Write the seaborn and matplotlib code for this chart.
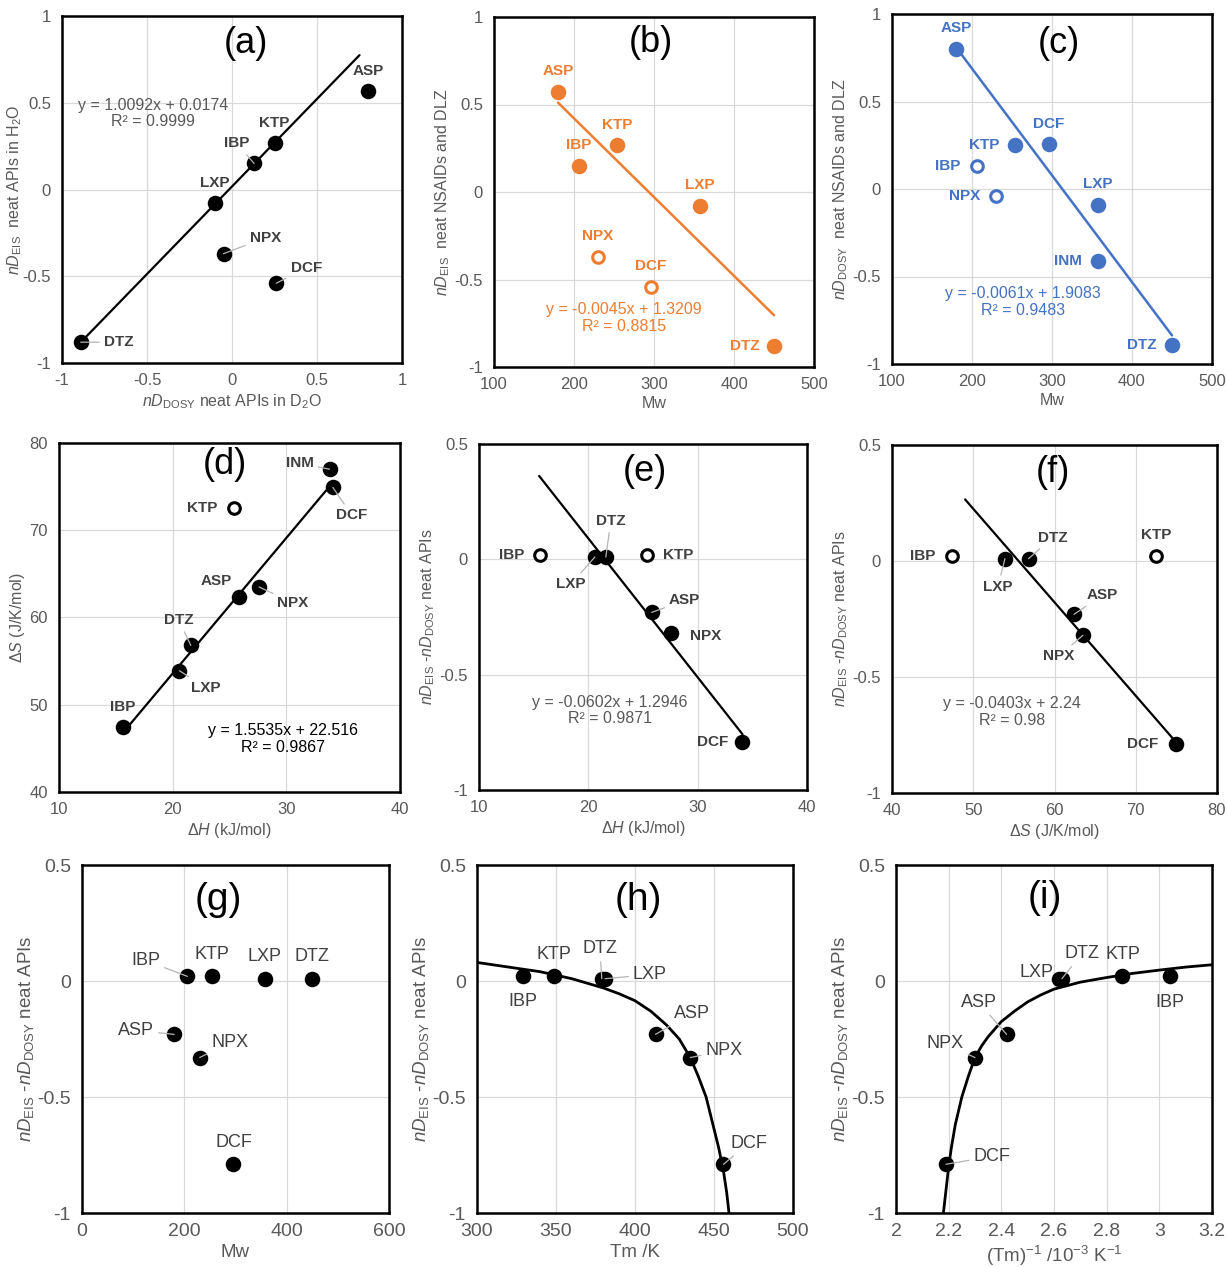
import numpy as np
import pandas as pd
import matplotlib
matplotlib.use("Agg")
import matplotlib.pyplot as plt
import seaborn as sns
from matplotlib.ticker import FuncFormatter

# ---------------- data ----------------
# (a) nD_DOSY (D2O) vs nD_EIS (H2O)
a_labels = ["ASP", "KTP", "IBP", "LXP", "NPX", "DCF", "DTZ"]
a_x = [0.80, 0.25, 0.13, -0.10, -0.05, 0.26, -0.89]
a_y = [0.57, 0.27, 0.15, -0.08, -0.37, -0.54, -0.88]
a_fit = (1.0092, 0.0174)
a_fit_range = [-0.89, 0.75]
a_eq = "y = 1.0092x + 0.0174\nR² = 0.9999"

# (b) Mw vs nD_EIS
b_labels = ["ASP", "IBP", "KTP", "LXP", "NPX", "DCF", "DTZ"]
b_x = [180, 206, 254, 357, 230, 296, 450]
b_y = [0.57, 0.15, 0.27, -0.08, -0.37, -0.54, -0.88]
b_open = [False, False, False, False, True, True, False]
b_fit = (-0.0045, 1.3209)
b_fit_range = [180, 450]
b_eq = "y = -0.0045x + 1.3209\nR² = 0.8815"

# (c) Mw vs nD_DOSY
c_labels = ["ASP", "KTP", "DCF", "IBP", "NPX", "LXP", "INM", "DTZ"]
c_x = [180, 254, 296, 206, 230, 357, 358, 450]
c_y = [0.80, 0.25, 0.26, 0.13, -0.04, -0.09, -0.41, -0.89]
c_open = [False, False, False, True, True, False, False, False]
c_fit = (-0.0061, 1.9083)
c_fit_range = [180, 450]
c_eq = "y = -0.0061x + 1.9083\nR² = 0.9483"

# (d) dH vs dS
d_labels = ["IBP", "LXP", "DTZ", "ASP", "NPX", "INM", "DCF", "KTP"]
d_x = [15.6, 20.6, 21.6, 25.8, 27.6, 33.8, 34.1, 25.4]
d_y = [47.4, 53.9, 56.8, 62.4, 63.5, 77.0, 74.9, 72.5]
d_open = [False, False, False, False, False, False, False, True]
d_fit = (1.5535, 22.516)
d_fit_range = [15.6, 34.1]
d_eq = "y = 1.5535x + 22.516\nR² = 0.9867"

# (e) dH vs nD_EIS - nD_DOSY
e_labels = ["IBP", "KTP", "LXP", "DTZ", "ASP", "NPX", "DCF"]
e_x = [15.6, 25.4, 20.6, 21.6, 25.8, 27.6, 34.1]
e_y = [0.02, 0.02, 0.01, 0.01, -0.23, -0.32, -0.79]
e_open = [True, True, False, False, False, False, False]
e_fit = (-0.0602, 1.2946)
e_fit_range = [15.5, 34.1]
e_eq = "y = -0.0602x + 1.2946\nR² = 0.9871"

# (f) dS vs nD_EIS - nD_DOSY
f_labels = ["IBP", "KTP", "LXP", "DTZ", "ASP", "NPX", "DCF"]
f_x = [47.4, 72.5, 53.9, 56.8, 62.4, 63.5, 74.9]
f_y = [0.02, 0.02, 0.01, 0.01, -0.23, -0.32, -0.79]
f_open = [True, True, False, False, False, False, False]
f_fit = (-0.0403, 2.24)
f_fit_range = [49.0, 74.9]
f_eq = "y = -0.0403x + 2.24\nR² = 0.98"

# (g) Mw vs nD_EIS - nD_DOSY
g_labels = ["IBP", "KTP", "LXP", "DTZ", "ASP", "NPX", "DCF"]
g_x = [206, 254, 357, 450, 180, 230, 296]
g_y = [0.02, 0.02, 0.01, 0.01, -0.23, -0.33, -0.79]

# (h) Tm vs nD_EIS - nD_DOSY
h_labels = ["IBP", "KTP", "DTZ", "LXP", "ASP", "NPX", "DCF"]
h_x = [329, 349, 379, 381, 413, 435, 456]
h_y = [0.02, 0.02, 0.01, 0.01, -0.23, -0.33, -0.79]
h_curve_x = [300, 310, 320, 330, 340, 350, 360, 370, 380, 390, 400, 410, 420, 428, 435,
             440, 445, 449, 453, 456, 458, 459.5]
h_curve_y = [0.08, 0.07, 0.06, 0.05, 0.04, 0.025, 0.01, -0.01, -0.03, -0.055, -0.085, -0.13,
             -0.19, -0.25, -0.33, -0.41, -0.50, -0.61, -0.72, -0.82, -0.91, -1.0]

# (i) 1/Tm vs nD_EIS - nD_DOSY
i_labels = ["LXP", "DTZ", "KTP", "IBP", "ASP", "NPX", "DCF"]
i_x = [2.62, 2.63, 2.86, 3.04, 2.42, 2.30, 2.19]
i_y = [0.01, 0.01, 0.02, 0.02, -0.23, -0.33, -0.79]
i_curve_x = [2.18, 2.19, 2.20, 2.21, 2.225, 2.25, 2.275, 2.30, 2.325, 2.35, 2.40, 2.45,
             2.50, 2.55, 2.60, 2.70, 2.80, 2.90, 3.00, 3.10, 3.20]
i_curve_y = [-1.0, -0.90, -0.80, -0.72, -0.62, -0.50, -0.41, -0.33, -0.28, -0.24, -0.175,
             -0.13, -0.09, -0.06, -0.035, -0.005, 0.015, 0.033, 0.047, 0.06, 0.07]

# ---------------- styles ----------------
ORANGE = "#ED7D31"
BLUE = "#4472C4"
TICK = "#595959"
LAB = "#404040"
LEAD = "#b4b4b4"

sns.set_theme(style="white")
plt.rcParams["font.family"] = ["Liberation Sans", "DejaVu Sans"]
plt.rcParams["mathtext.fontset"] = "custom"
plt.rcParams["mathtext.rm"] = "Liberation Sans"
plt.rcParams["mathtext.it"] = "Liberation Sans:italic"
plt.rcParams["mathtext.bf"] = "Liberation Sans:bold"
plt.rcParams["mathtext.sf"] = "Liberation Sans"
plt.rcParams["axes.unicode_minus"] = False

W, H = 1227, 1267
fig = plt.figure(figsize=(W / 100, H / 100), dpi=100)
fig.patch.set_facecolor("white")


def rect(L, R, T, B):
    return [L / W, (H - B) / H, (R - L) / W, (B - T) / H]


fmt = FuncFormatter(lambda v, p: "{:g}".format(round(v, 6)))


def make_ax(r, xlim, ylim, xticks, yticks, xlabel, ylabel, tsize=12, lsize=11.5, ylpad=2):
    ax = fig.add_axes(r)
    ax.set_xlim(*xlim)
    ax.set_ylim(*ylim)
    ax.set_xticks(xticks)
    ax.set_yticks(yticks)
    ax.xaxis.set_major_formatter(fmt)
    ax.yaxis.set_major_formatter(fmt)
    ax.grid(True, color="#d9d9d9", lw=0.9)
    ax.set_axisbelow(True)
    for s in ax.spines.values():
        s.set_color("black")
        s.set_linewidth(1.8)
        s.set_zorder(5)
    ax.tick_params(axis="both", length=0, labelsize=tsize, labelcolor=TICK)
    ax.tick_params(axis="x", pad=7)
    ax.tick_params(axis="y", pad=8)
    ax.set_xlabel(xlabel, fontsize=lsize, color=TICK, labelpad=3)
    ax.set_ylabel(ylabel, fontsize=lsize, color=TICK, labelpad=ylpad)
    ax.set_facecolor("white")
    return ax


def points(ax, xs, ys, color, opens=None):
    df = pd.DataFrame({"x": xs, "y": ys, "open": opens if opens is not None else [False] * len(xs)})
    filled = df[~df["open"]]
    hollow = df[df["open"]]
    xl, yl = ax.get_xlabel(), ax.get_ylabel()
    sns.scatterplot(data=filled, x="x", y="y", ax=ax, s=125, color=color,
                    edgecolor=color, linewidth=0, zorder=3, legend=False)
    if len(hollow):
        sns.scatterplot(data=hollow, x="x", y="y", ax=ax, s=70, facecolor="white",
                        edgecolor=color, linewidth=2.2, zorder=3, legend=False)
    ax.set_xlabel(xl)
    ax.set_ylabel(yl)


def fitline(ax, fit, xr, color, lw=1.6):
    xs = np.array(xr, dtype=float)
    ys = fit[0] * xs + fit[1]
    sns.lineplot(x=xs, y=ys, ax=ax, color=color, lw=lw, zorder=2, legend=False)


def labels(ax, names, xs, ys, offs, color=LAB, size=11, weight="bold"):
    for n, x, y in zip(names, xs, ys):
        dx, dy, lead = offs[n]
        ap = dict(arrowstyle="-", color=LEAD, lw=0.9, shrinkA=1, shrinkB=0) if lead else None
        ax.annotate(n, xy=(x, y), xytext=(dx, dy), textcoords="offset pixels",
                    ha="center", va="center", fontsize=size, fontweight=weight,
                    color=color, arrowprops=ap, zorder=6)


def panel_tag(ax, tag, fx, fy, size=26):
    ax.text(fx, fy, tag, transform=ax.transAxes, fontsize=size, color="black",
            ha="center", va="center", zorder=6)


def eq(ax, text, fx, fy, color):
    ax.text(fx, fy, text, transform=ax.transAxes, fontsize=11.5, color=color,
            ha="center", va="center", linespacing=1.1, zorder=6)


NDEIS = r"$\mathit{nD}_{\mathrm{EIS}}$"
NDDOSY = r"$\mathit{nD}_{\mathrm{DOSY}}$"
DIFF = NDEIS + " -" + NDDOSY + " neat APIs"

# ---------- (a) ----------
ax = make_ax(rect(62, 402, 16, 363), (-1, 1), (-1, 1), [-1, -0.5, 0, 0.5, 1], [-1, -0.5, 0, 0.5, 1],
             NDDOSY + r" neat APIs in D$_2$O", NDEIS + r"  neat APIs in H$_2$O", ylpad=-1)
fitline(ax, a_fit, a_fit_range, "black")
points(ax, a_x, a_y, "black")
labels(ax, a_labels, a_x, a_y, {
    "ASP": (0, 20, False), "KTP": (0, 20, False), "IBP": (-17, 20, True),
    "LXP": (0, 20, False), "NPX": (42, 16, True), "DCF": (30, 15, True), "DTZ": (38, 0, True)})
eq(ax, a_eq, 0.268, 0.72, TICK)
panel_tag(ax, "(a)", 0.54, 0.92)

# ---------- (b) ----------
ax = make_ax(rect(494, 814, 17, 367), (100, 500), (-1, 1), [100, 200, 300, 400, 500], [-1, -0.5, 0, 0.5, 1],
             "Mw", NDEIS + "  neat NSAIDs and DLZ")
fitline(ax, b_fit, b_fit_range, ORANGE, lw=1.8)
points(ax, b_x, b_y, ORANGE, b_open)
labels(ax, b_labels, b_x, b_y, {
    "ASP": (0, 21, False), "IBP": (0, 21, False), "KTP": (0, 20, False), "LXP": (0, 21, False),
    "NPX": (0, 21, False), "DCF": (0, 20, False), "DTZ": (-29, 0, False)}, color=ORANGE)
eq(ax, b_eq, 0.406, 0.14, ORANGE)
panel_tag(ax, "(b)", 0.49, 0.926)

# ---------- (c) ----------
ax = make_ax(rect(892, 1212, 14, 364), (100, 500), (-1, 1), [100, 200, 300, 400, 500], [-1, -0.5, 0, 0.5, 1],
             "Mw", NDDOSY + "  neat NSAIDs and DLZ")
fitline(ax, c_fit, c_fit_range, BLUE, lw=1.8)
points(ax, c_x, c_y, BLUE, c_open)
labels(ax, c_labels, c_x, c_y, {
    "ASP": (0, 21, False), "KTP": (-31, 0, False), "DCF": (0, 20, False), "IBP": (-29, 0, False),
    "NPX": (-31, 0, False), "LXP": (0, 21, False), "INM": (-30, 0, False), "DTZ": (-30, 0, False)}, color=BLUE)
eq(ax, c_eq, 0.41, 0.177, BLUE)
panel_tag(ax, "(c)", 0.52, 0.917)

# ---------- (d) ----------
ax = make_ax(rect(59, 400, 443, 792), (10, 40), (40, 80), [10, 20, 30, 40], [40, 50, 60, 70, 80],
             r"$\mathit{ΔH}$ (kJ/mol)", r"$\mathit{ΔS}$ (J/K/mol)")
fitline(ax, d_fit, d_fit_range, "black")
points(ax, d_x, d_y, "black", d_open)
labels(ax, d_labels, d_x, d_y, {
    "IBP": (0, 20, False), "LXP": (26, -17, True), "DTZ": (-12, 25, True), "ASP": (-22, 16, False),
    "NPX": (34, -16, True), "INM": (-30, 6, True), "DCF": (19, -28, True), "KTP": (-32, 0, False)})
eq(ax, d_eq, 0.657, 0.152, "black")
panel_tag(ax, "(d)", 0.487, 0.937)

# ---------- (e) ----------
ax = make_ax(rect(479, 807, 444, 790), (10, 40), (-1, 0.5), [10, 20, 30, 40], [-1, -0.5, 0, 0.5],
             r"$\mathit{ΔH}$ (kJ/mol)", DIFF)
fitline(ax, e_fit, e_fit_range, "black")
points(ax, e_x, e_y, "black", e_open)
labels(ax, e_labels, e_x, e_y, {
    "IBP": (-29, 0, False), "KTP": (31, 0, False), "LXP": (-24, -27, True), "DTZ": (5, 36, True),
    "ASP": (33, 12, True), "NPX": (34, -3, False), "DCF": (-30, 0, False)})
eq(ax, e_eq, 0.40, 0.23, TICK)
panel_tag(ax, "(e)", 0.506, 0.92)

# ---------- (f) ----------
ax = make_ax(rect(892, 1217, 445, 793), (40, 80), (-1, 0.5), [40, 50, 60, 70, 80], [-1, -0.5, 0, 0.5],
             r"$\mathit{ΔS}$ (J/K/mol)", DIFF)
fitline(ax, f_fit, f_fit_range, "black")
points(ax, f_x, f_y, "black", f_open)
labels(ax, f_labels, f_x, f_y, {
    "IBP": (-29, 0, False), "KTP": (0, 21, False), "LXP": (-7, -28, True), "DTZ": (24, 21, True),
    "ASP": (28, 19, True), "NPX": (-24, -21, True), "DCF": (-33, 0, False)})
eq(ax, f_eq, 0.37, 0.233, TICK)
panel_tag(ax, "(f)", 0.495, 0.92)

# ---------- (g) ----------
ax = make_ax(rect(82, 389, 865, 1213), (0, 600), (-1, 0.5), [0, 200, 400, 600], [-1, -0.5, 0, 0.5],
             "Mw", DIFF, tsize=14, lsize=13.5, ylpad=1)
points(ax, g_x, g_y, "black")
labels(ax, g_labels, g_x, g_y, {
    "IBP": (-42, 16, True), "KTP": (0, 22, False), "LXP": (0, 22, False), "DTZ": (0, 22, False),
    "ASP": (-38, 4, True), "NPX": (30, 15, True), "DCF": (0, 22, False)}, size=13, weight="normal")
panel_tag(ax, "(g)", 0.443, 0.9, size=28)

# ---------- (h) ----------
ax = make_ax(rect(477, 793, 865, 1213), (300, 500), (-1, 0.5), [300, 350, 400, 450, 500], [-1, -0.5, 0, 0.5],
             "Tm /K", DIFF, tsize=14, lsize=13.5, ylpad=1)
sns.lineplot(x=h_curve_x, y=h_curve_y, ax=ax, color="black", lw=2.0, sort=False, zorder=2)
points(ax, h_x, h_y, "black")
labels(ax, h_labels, h_x, h_y, {
    "IBP": (0, -25, False), "KTP": (0, 22, False), "DTZ": (-2, 30, True), "LXP": (45, 4, True),
    "ASP": (36, 21, True), "NPX": (34, 7, True), "DCF": (25, 21, True)}, size=13, weight="normal")
panel_tag(ax, "(h)", 0.51, 0.9, size=28)

# ---------- (i) ----------
ax = make_ax(rect(896, 1212, 865, 1213), (2, 3.2), (-1, 0.5), [2, 2.2, 2.4, 2.6, 2.8, 3.0, 3.2], [-1, -0.5, 0, 0.5],
             r"(Tm)$^{-1}$ /10$^{-3}$ K$^{-1}$", DIFF, tsize=14, lsize=13.5, ylpad=1)
sns.lineplot(x=i_curve_x, y=i_curve_y, ax=ax, color="black", lw=2.0, sort=False, zorder=2)
points(ax, i_x, i_y, "black")
labels(ax, i_labels, i_x, i_y, {
    "LXP": (-23, 6, False), "DTZ": (20, 25, True), "KTP": (0, 22, False), "IBP": (0, -26, False),
    "ASP": (-28, 32, True), "NPX": (-30, 14, True), "DCF": (46, 8, True)}, size=13, weight="normal")
panel_tag(ax, "(i)", 0.47, 0.905, size=28)

fig.savefig("out.png", dpi=100, facecolor="white")
